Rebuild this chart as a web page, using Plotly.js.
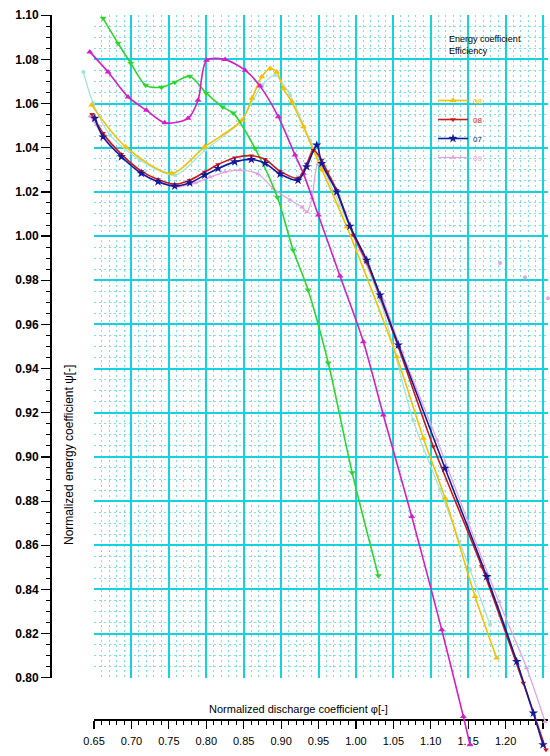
<!DOCTYPE html>
<html><head><meta charset="utf-8">
<script src="https://cdn.plot.ly/plotly-3.0.1.min.js"></script>
<style>html,body{margin:0;padding:0;background:#fff}#chart{width:550px;height:756px}</style>
</head><body><div id="chart"></div>
<script>
// ---- data ----
const greenX = [0.662, 0.682, 0.699, 0.719, 0.740, 0.758, 0.778, 0.800, 0.822, 0.836, 0.865, 0.895, 0.916, 0.936, 0.963, 0.995, 1.030];
const greenY = [1.0986, 1.0873, 1.0783, 1.0683, 1.0674, 1.0697, 1.0724, 1.0647, 1.0584, 1.0557, 1.0398, 1.0176, 0.9937, 0.9756, 0.9425, 0.8928, 0.8462];

const magentaX = [0.6443, 0.6687, 0.6954, 0.7199, 0.7445, 0.7756, 0.7890, 0.8003, 0.8251, 0.8518, 0.8718, 0.8963, 0.9186, 0.9297, 0.9497, 0.9787, 1.0099, 1.0366, 1.0746, 1.1147, 1.1435, 1.1525];
const magentaY = [1.0834, 1.0743, 1.0630, 1.0570, 1.0513, 1.0533, 1.0615, 1.0796, 1.0799, 1.0751, 1.0679, 1.0540, 1.0367, 1.0284, 1.0095, 0.9819, 0.9522, 0.9190, 0.8730, 0.8217, 0.7825, 0.7697];

const yellowX = [0.6467, 0.6921, 0.7536, 0.7979, 0.8478, 0.8611, 0.8741, 0.8852, 0.8942, 0.9030, 0.9142, 0.9297, 0.9431, 0.9547, 0.9877, 1.0545, 1.0901, 1.1191, 1.1592, 1.1881];
const yellowY = [1.0593, 1.0404, 1.0284, 1.0404, 1.0525, 1.0624, 1.0721, 1.0759, 1.0743, 1.0668, 1.0608, 1.0495, 1.0389, 1.0299, 1.0042, 0.9454, 0.9085, 0.8813, 0.8368, 0.8089];

const blueX = [0.6509, 0.6620, 0.6865, 0.7132, 0.7355, 0.7578, 0.7779, 0.7979, 0.8157, 0.8380, 0.8602, 0.8785, 0.8986, 0.9226, 0.9342, 0.9476, 0.9543, 0.9743, 0.9921, 1.0144, 1.0322, 1.0567, 1.1191, 1.1748, 1.2149, 1.2371, 1.2500];
const blueY = [1.0533, 1.0449, 1.0359, 1.0284, 1.0246, 1.0226, 1.0241, 1.0276, 1.0306, 1.0336, 1.0347, 1.0330, 1.0281, 1.0253, 1.0314, 1.0412, 1.0329, 1.0200, 1.0045, 0.9891, 0.9733, 0.9507, 0.8949, 0.8458, 0.8074, 0.7840, 0.7697];

const redX = [0.6473, 0.6620, 0.6865, 0.7132, 0.7355, 0.7578, 0.7779, 0.7979, 0.8157, 0.8380, 0.8602, 0.8785, 0.8986, 0.9226, 0.9342, 0.9431, 0.9543, 0.9618, 0.9743, 0.9965, 1.0144, 1.0322, 1.0567, 1.1034, 1.1681, 1.2237, 1.2540];
const redY = [1.0552, 1.0466, 1.0371, 1.0294, 1.0256, 1.0235, 1.0253, 1.0290, 1.0324, 1.0355, 1.0364, 1.0348, 1.0294, 1.0262, 1.0326, 1.0389, 1.0344, 1.0291, 1.0208, 1.0005, 0.9882, 0.9724, 0.9498, 0.9047, 0.8504, 0.7976, 0.7674];

const pinkX = [0.6447, 0.6620, 0.6865, 0.7132, 0.7382, 0.7623, 0.7850, 0.8050, 0.8250, 0.8451, 0.8692, 0.8892, 0.9119, 0.9280, 0.9346, 0.9413, 0.9493, 0.9654, 0.9854, 1.0055, 1.0362, 1.0616, 1.1084, 1.1498, 1.1912, 1.2282, 1.2527];
const pinkY = [1.0543, 1.0457, 1.0362, 1.0281, 1.0244, 1.0226, 1.0240, 1.0267, 1.0290, 1.0299, 1.0281, 1.0217, 1.0163, 1.0131, 1.0109, 1.0172, 1.0326, 1.0262, 1.0109, 0.9937, 0.9710, 0.9475, 0.9077, 0.8706, 0.8344, 0.8044, 0.7801];

const paleCyanX = [0.6357, 0.6487, 0.6714, 0.7115, 0.7582, 0.7983, 0.8451, 0.8745, 0.8919, 0.9119, 0.9386, 0.9787, 1.0322, 1.0763, 1.1124, 1.1525, 1.1792];
const paleCyanY = [1.0743, 1.0602, 1.0457, 1.0344, 1.0276, 1.0389, 1.0516, 1.0683, 1.0729, 1.0638, 1.0434, 1.0140, 0.9710, 0.9167, 0.8851, 0.8489, 0.8240];

const strayPinkX = [1.1926, 1.2260, 1.2567];
const strayPinkY = [0.9878, 0.9814, 0.9719];

const legendNames = ['08', '08', '07', '09'];   // yellow, red, blue, pink
const xTitle = 'Normalized discharge coefficient φ[-]';
const yTitle = 'Normalized energy coefficient ψ[-]';
const legendHeader = 'Energy coefficient<br>Efficiency';

// ---- geometry (pixels of the 550x756 page) ----
const W = 550, H = 756;
const GX = {p0: 94, p1: 548, v0: 0.6499, v1: 1.2567};
const GY = {p0: 678, p1: 15, v0: 0.7999, v1: 1.1001};
const sx = (GX.p1 - GX.p0) / (GX.v1 - GX.v0);
const sy = (GY.p0 - GY.p1) / (GY.v1 - GY.v0);
const D = {x0: 80, x1: 550, yTop: 5, yBot: 756};
const x2range = [GX.v0 + (D.x0 - GX.p0) / sx, GX.v0 + (D.x1 - GX.p0) / sx];
const y2range = [GY.v0 - (D.yBot - GY.p0) / sy, GY.v1 + (GY.p1 - D.yTop) / sy];

function tr(x, y, color, opts) {
  return Object.assign({
    x: x, y: y, xaxis: 'x2', yaxis: 'y2', type: 'scatter', mode: 'lines+markers',
    line: {color: color, width: 1.6, shape: 'spline', smoothing: 0.8},
    marker: {color: color, size: 5, symbol: 'triangle-up'},
    cliponaxis: false, showlegend: false, hoverinfo: 'skip'
  }, opts || {});
}
function colored(t, c) { return '<span style="color:' + c + '">' + t + '</span>'; }

const C = {green: '#2ed52e', magenta: '#d41ec6', yellow: '#f5c000', red: '#cc1a1a', blue: '#16189c', pink: '#e6a3dc', paleCyan: '#9fe3dc'};

const traces = [
  {x: strayPinkX, y: strayPinkY, xaxis: 'x', yaxis: 'y', type: 'scatter', mode: 'markers',
   marker: {color: C.pink, size: 4}, cliponaxis: false, showlegend: false, hoverinfo: 'skip'},
  tr(paleCyanX, paleCyanY, C.paleCyan, {line: {color: C.paleCyan, width: 1.2, shape: 'spline', smoothing: 0.8}, marker: {color: C.paleCyan, size: 4}}),
  tr(pinkX, pinkY, C.pink, {showlegend: true, name: colored(legendNames[3], C.pink), legendrank: 4,
     line: {color: C.pink, width: 1.3, shape: 'spline', smoothing: 0.8}}),
  tr(yellowX, yellowY, C.yellow, {showlegend: true, name: colored(legendNames[0], C.yellow), legendrank: 1,
     marker: {color: C.yellow, size: 6, symbol: 'triangle-up'}}),
  tr(greenX, greenY, C.green, {marker: {color: C.green, size: 6, symbol: 'triangle-down'}}),
  tr(magentaX, magentaY, C.magenta, {marker: {color: C.magenta, size: 6, symbol: 'triangle-up'}}),
  tr(redX, redY, C.red, {showlegend: true, name: colored(legendNames[1], C.red), legendrank: 2,
     marker: {color: C.red, size: 5, symbol: 'triangle-down'}}),
  tr(blueX, blueY, C.blue, {showlegend: true, name: colored(legendNames[2], C.blue), legendrank: 3,
     marker: {color: C.blue, size: 7, symbol: 'star'}})
];

const GRID = '#14d2de', MINOR = '#7fdfe8';
const tickFont = {family: 'Liberation Sans, Arial, sans-serif', size: 11, color: '#000'};
const layout = {
  width: W, height: H,
  margin: {l: 0, r: 0, t: 0, b: 0, pad: 0, autoexpand: false},
  paper_bgcolor: '#ffffff', plot_bgcolor: 'rgba(0,0,0,0)',
  showlegend: true,
  legend: {x: 433 / W, y: 1 - 86 / H, xanchor: 'left', yanchor: 'top', bgcolor: 'rgba(0,0,0,0)',
           font: {family: 'Liberation Sans, Arial, sans-serif', size: 8, color: '#000'}, itemwidth: 30, tracegroupgap: 0},
  xaxis: {
    domain: [GX.p0 / W, GX.p1 / W], range: [GX.v0, GX.v1], anchor: 'free', position: 1 - 719 / H,
    showline: true, linecolor: '#000', linewidth: 1.5,
    ticks: 'outside', ticklen: 8, tickwidth: 1.2, tickcolor: '#000',
    tick0: 0.65, dtick: 0.05, tickformat: '.2f', tickfont: tickFont, ticklabelstandoff: 3,
    showgrid: true, gridcolor: GRID, gridwidth: 2, zeroline: false,
    minor: {dtick: 0.01, tick0: 0.65, ticks: 'outside', ticklen: 4, tickwidth: 1, tickcolor: '#000',
            showgrid: true, gridcolor: MINOR, gridwidth: 1, griddash: '2px,3px'}
  },
  yaxis: {
    domain: [1 - GY.p0 / H, 1 - GY.p1 / H], range: [GY.v0, GY.v1], anchor: 'free', position: 50 / W, side: 'left',
    showline: true, linecolor: '#000', linewidth: 1.5,
    ticks: 'outside', ticklen: 9, tickwidth: 1.2, tickcolor: '#000',
    tick0: 0.8, dtick: 0.02, tickformat: '.2f',
    tickfont: {family: 'Liberation Sans, Arial, sans-serif', size: 12, color: '#000', weight: 'bold'},
    showgrid: true, gridcolor: GRID, gridwidth: 2, zeroline: false,
    minor: {dtick: 0.005, tick0: 0.8, ticks: 'outside', ticklen: 4, tickwidth: 1, tickcolor: '#000',
            showgrid: true, gridcolor: MINOR, gridwidth: 1, griddash: '2px,3px'}
  },
  xaxis2: {domain: [D.x0 / W, D.x1 / W], range: x2range, anchor: 'y2', visible: false, showgrid: false, zeroline: false},
  yaxis2: {domain: [1 - D.yBot / H, 1 - D.yTop / H], range: y2range, anchor: 'x2', visible: false, showgrid: false, zeroline: false},
  annotations: [
    {text: xTitle, xref: 'paper', yref: 'paper', x: 299 / W, y: 1 - 709 / H, xanchor: 'center', yanchor: 'middle',
     showarrow: false, font: {family: 'Liberation Sans, Arial, sans-serif', size: 11, color: '#000'}},
    {text: yTitle, xref: 'paper', yref: 'paper', x: 69 / W, y: 1 - 455 / H, xanchor: 'center', yanchor: 'middle',
     textangle: -90, showarrow: false, font: {family: 'Liberation Sans, Arial, sans-serif', size: 12, color: '#000'}},
    {text: legendHeader, xref: 'paper', yref: 'paper', x: 447 / W, y: 1 - 32 / H, xanchor: 'left', yanchor: 'top',
     align: 'left', showarrow: false, font: {family: 'Liberation Sans, Arial, sans-serif', size: 9, color: '#000'}}
  ]
};

Plotly.newPlot('chart', traces, layout, {staticPlot: true, displayModeBar: false});
</script>
</body></html>
